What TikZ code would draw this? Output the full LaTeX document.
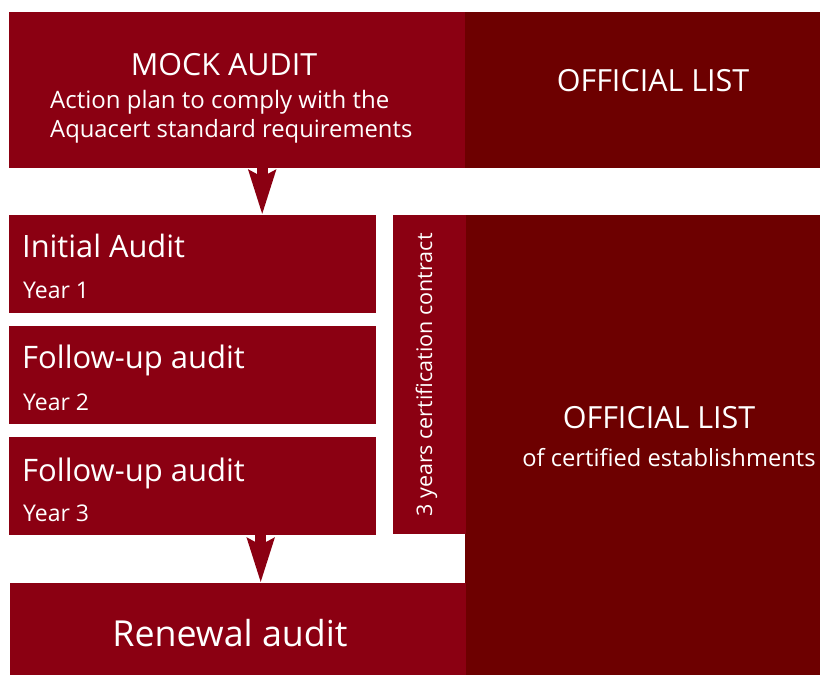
\documentclass[tikz,border=0pt]{standalone}
\usepackage{fontspec}
\setmainfont{Open Sans}
\usetikzlibrary{positioning,arrows.meta,calc}
\definecolor{auditred}{RGB}{139,0,18}
\definecolor{listred}{RGB}{109,0,0}

\begin{document}
\begin{tikzpicture}[x=1pt, y=-1pt,
    box/.style={fill=auditred, draw=none, inner sep=0pt, anchor=north west},
    listbox/.style={box, fill=listred},
    txt/.style={text=white, inner sep=0pt},
    flow/.style={auditred, line width=11pt, -{Stealth[length=44pt,width=26pt,inset=6pt]}}]
    \useasboundingbox (0,0) rectangle (820,675);

    % Top row
    \node [box, minimum width=456pt, minimum height=156pt] (mock) at (9,12) {};
    \node [listbox, minimum width=355pt, minimum height=156pt] (offtop) at (465,12) {};
    \node [txt, anchor=base, font=\fontsize{30.5}{32}\selectfont] (mocktitle) at (224,75) {MOCK AUDIT};
    \node [txt, anchor=base west, font=\fontsize{24}{26}\selectfont] (plan1) at (50,108) {Action plan to comply with the};
    \node [txt, anchor=base west, font=\fontsize{23.8}{26}\selectfont] (plan2) at (50,137) {Aquacert standard requirements};
    \node [txt, anchor=base, font=\fontsize{30.5}{32}\selectfont] (offtitle) at (653,91) {OFFICIAL LIST};

    % Yearly audits
    \node [box, minimum width=367pt, minimum height=98pt] (initial) at (9,215) {};
    \node [box, minimum width=367pt, minimum height=98pt] (follow1) at (9,326) {};
    \node [box, minimum width=367pt, minimum height=98pt] (follow2) at (9,437) {};
    \node [txt, anchor=base west, font=\fontsize{30.8}{32}\selectfont] (initialtitle) at (22,257) {Initial Audit};
    \node [txt, anchor=base west, font=\fontsize{23}{24}\selectfont] (year1) at (23,298) {Year 1};
    \node [txt, anchor=base west, font=\fontsize{31}{32}\selectfont] (follow1title) at (22,368) {Follow-up audit};
    \node [txt, anchor=base west, font=\fontsize{23}{24}\selectfont] (year2) at (23,410) {Year 2};
    \node [txt, anchor=base west, font=\fontsize{31}{32}\selectfont] (follow2title) at (22,481) {Follow-up audit};
    \node [txt, anchor=base west, font=\fontsize{23}{24}\selectfont] (year3) at (23,521) {Year 3};

    % Contract and official list
    \node [listbox, minimum width=355pt, minimum height=460pt] (offlist) at (465,215) {};
    \node [box, minimum width=73pt, minimum height=319pt] (contract) at (393,215) {};
    \node [txt, anchor=base, rotate=90, font=\fontsize{21.5}{23}\selectfont] (contracttext) at (432,375) {3 years certification contract};
    \node [txt, anchor=base, font=\fontsize{30.5}{32}\selectfont] (offlisttitle) at (659,428) {OFFICIAL LIST};
    \node [txt, anchor=base, font=\fontsize{23.7}{25}\selectfont] (offlistsub) at (669,466) {of certified establishments};

    % Renewal
    \node [box, minimum width=456pt, minimum height=92pt] (renewal) at (10,583) {};
    \node [txt, anchor=base, font=\fontsize{35.8}{38}\selectfont] (renewaltitle) at (230,646) {Renewal audit};

    % Arrows
    \draw [flow] ([xshift=25pt]mock.south) -- ([xshift=25pt]mock.south |- initial.north);
    \draw [flow] ([xshift=68pt]follow2.south) -- ([xshift=68pt]follow2.south |- renewal.north);
\end{tikzpicture}
\end{document}
